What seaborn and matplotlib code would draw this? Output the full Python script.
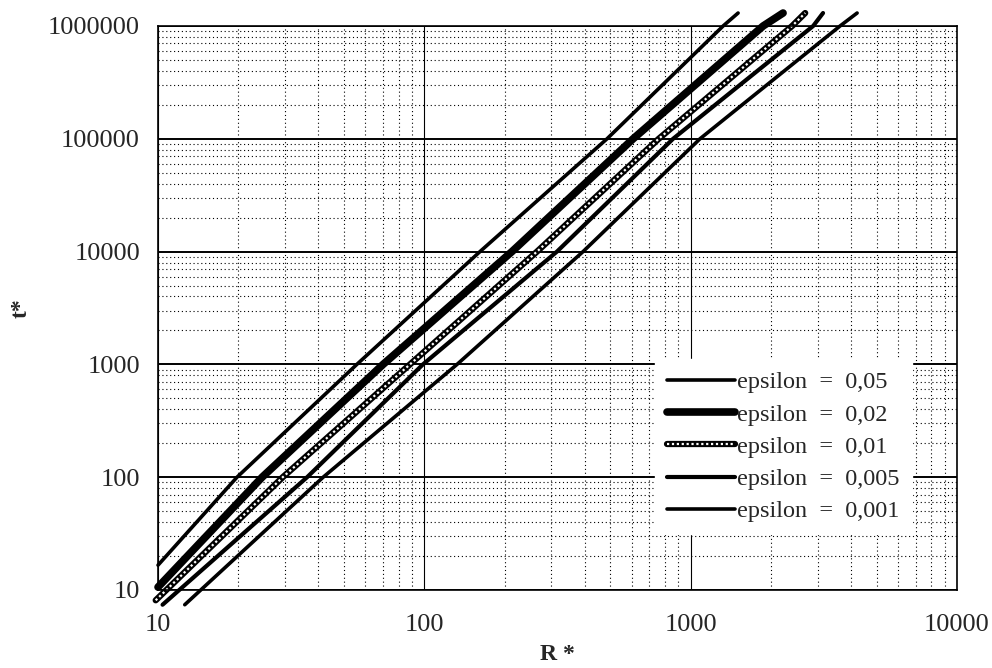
import numpy as np
import matplotlib
matplotlib.use("Agg")
import matplotlib.pyplot as plt
import seaborn as sns
from matplotlib.legend_handler import HandlerTuple

# values (R*, t*)
labels = ["epsilon  =  0,05", "epsilon  =  0,02", "epsilon  =  0,01",
          "epsilon  =  0,005", "epsilon  =  0,001"]
r_005 = [10.0, 19.8, 55.8, 161.8, 485.3, 1324, 1507]
r_002 = [10.0, 24.6, 70.0, 213.3, 608.1, 1871, 2223]
r_001 = [9.8, 29.4, 88.3, 264.9, 758.6, 2404, 2692]
r_0005 = [10.4, 36.3, 98.8, 314.8, 859.0, 2884, 3141]
r_0001 = [12.6, 41.7, 132.7, 394.5, 1084, 3639, 4217]
t_005 = [16.6, 100, 1000, 10000, 100000, 1000000, 1303000]
t_002 = [10.6, 100, 1000, 10000, 100000, 1000000, 1303000]
t_001 = [8.1, 100, 1000, 10000, 100000, 1000000, 1303000]
t_0005 = [7.4, 100, 1000, 10000, 100000, 1000000, 1303000]
t_0001 = [7.4, 100, 1000, 10000, 100000, 1000000, 1303000]

xticks = [10, 100, 1000, 10000]
yticks = [10, 100, 1000, 10000, 100000, 1000000]

sns.set_style("white")
plt.rcParams['font.family'] = ['Liberation Serif', 'DejaVu Serif']

fig = plt.figure(figsize=(9.92, 6.68), dpi=100)
ax = fig.add_axes([0.1593, 0.1168, 0.8054, 0.8443])
ax.set_xscale("log")
ax.set_yscale("log")
ax.set_xlim(10, 10000)
ax.set_ylim(10, 1000000)

# grid
ax.grid(True, which="minor", color="black", linestyle=(0, (1, 2.5)), linewidth=0.8)
ax.grid(True, which="major", axis="y", color="black", linestyle="-", linewidth=1.4)
ax.grid(True, which="major", axis="x", color="black", linestyle="-", linewidth=0.8)
ax.set_axisbelow(True)

h1 = sns.lineplot(x=r_005, y=t_005, ax=ax, color="black", linewidth=2.6,
                  sort=False, legend=False, clip_on=False).lines[-1]
h2 = sns.lineplot(x=r_002, y=t_002, ax=ax, color="black", linewidth=5.5,
                  sort=False, legend=False, clip_on=False).lines[-1]
h3a = sns.lineplot(x=r_001, y=t_001, ax=ax, color="black", linewidth=4.5,
                   sort=False, legend=False, clip_on=False).lines[-1]
h3b = sns.lineplot(x=r_001, y=t_001, ax=ax, color="white", linewidth=1.6,
                   linestyle=(0, (1, 1.2)), sort=False, legend=False,
                   clip_on=False).lines[-1]
h4 = sns.lineplot(x=r_0005, y=t_0005, ax=ax, color="black", linewidth=3.0,
                  sort=False, legend=False, clip_on=False).lines[-1]
h5 = sns.lineplot(x=r_0001, y=t_0001, ax=ax, color="black", linewidth=2.6,
                  sort=False, legend=False, clip_on=False).lines[-1]

ax.set_xticks(xticks)
ax.set_xticklabels([str(v) for v in xticks])
ax.set_yticks(yticks)
ax.set_yticklabels([str(v) for v in yticks])
ax.tick_params(axis="both", which="major", labelsize=19, length=5,
               width=1, color="black", direction="out", pad=8)
ax.tick_params(axis="both", which="minor", length=0)
ax.tick_params(axis="x", pad=12)
for s in ax.spines.values():
    s.set_color("black")
    s.set_linewidth(1.2)

ax.set_xlabel("R *", fontsize=17, fontweight="bold")
ax.xaxis.set_label_coords(0.5, -0.095)
ax.set_ylabel("t*", fontsize=17, fontweight="bold")
ax.yaxis.set_label_coords(-0.158, 0.5)

leg = ax.legend([h1, h2, (h3a, h3b), h4, h5], labels,
                handler_map={tuple: HandlerTuple(ndivide=1, pad=0)},
                loc="lower right", bbox_to_anchor=(0.959, 0.077),
                fontsize=17.5, handlelength=2.8, handletextpad=0.1,
                labelspacing=0.42, borderpad=0.5, frameon=True, fancybox=False)
leg.get_frame().set_facecolor("white")
leg.get_frame().set_edgecolor("white")
leg.get_frame().set_alpha(1)

fig.savefig("out.png", dpi=100)
